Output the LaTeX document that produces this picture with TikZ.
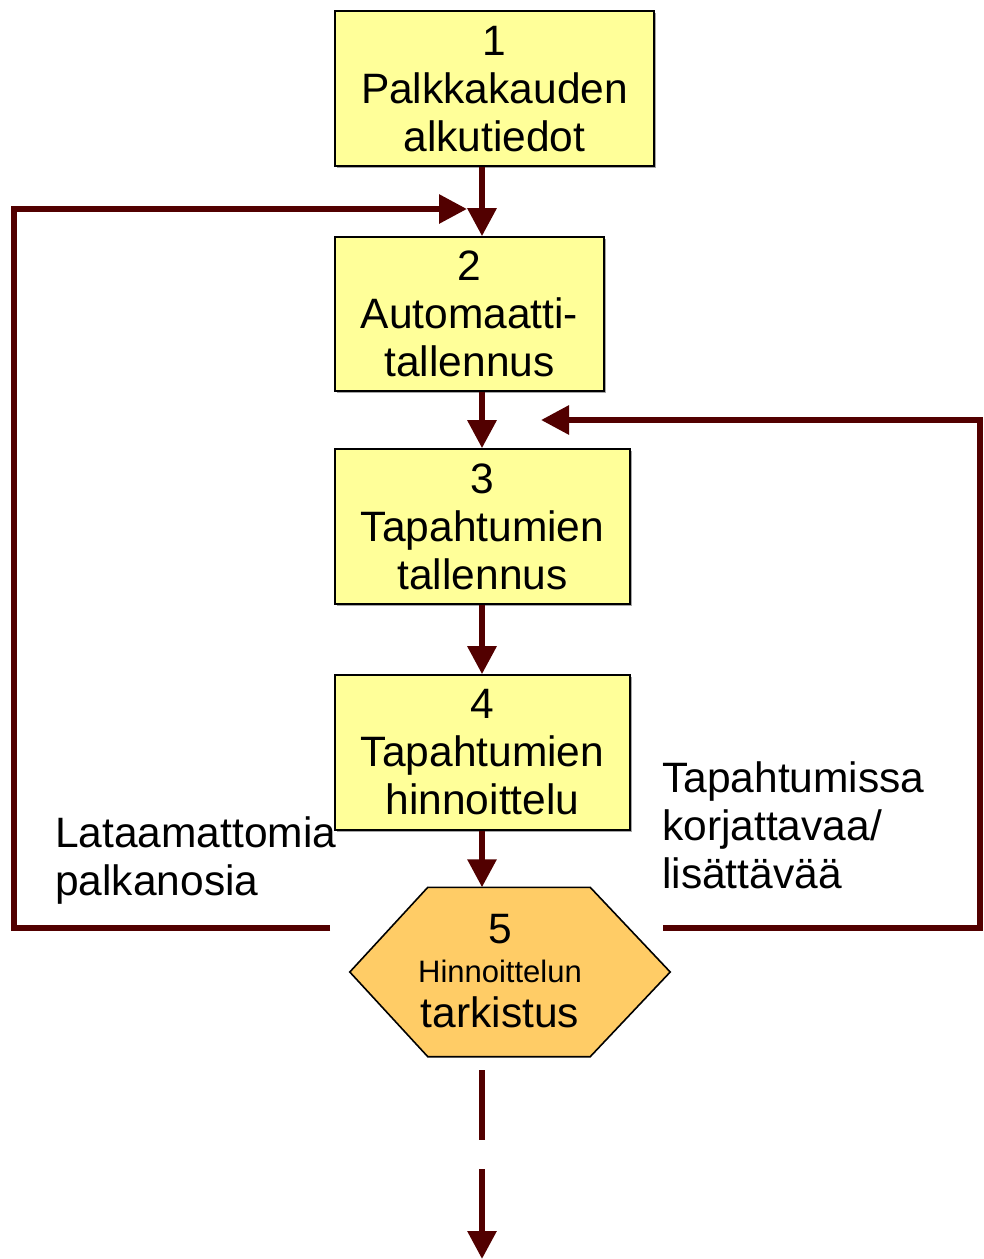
\documentclass[tikz,border=0pt]{standalone}
\usepackage{fontspec}
\setmainfont{Liberation Sans}
\usetikzlibrary{arrows.meta,backgrounds,shadows}
\definecolor{arr}{HTML}{520000}
\definecolor{boxy}{HTML}{FFFF99}
\definecolor{hexy}{HTML}{FFCC66}
\tikzset{
  stepbox/.style={draw=black, line width=1.6pt, fill=boxy, inner sep=0pt, align=center,
    font=\fontsize{42.5}{48}\selectfont,
    drop shadow={shadow xshift=2pt, shadow yshift=-2pt, fill=black!35, opacity=1}},
  flow/.style={draw=arr, line width=6pt, -{Triangle[width=28pt,length=28pt]}},
  flowline/.style={draw=arr, line width=6pt},
  lbl/.style={align=left, inner sep=0pt, anchor=north west, font=\fontsize{42.5}{48}\selectfont},
  bigtxt/.style={inner sep=0pt, anchor=base, font=\fontsize{42.5}{48}\selectfont},
  smalltxt/.style={inner sep=0pt, anchor=base, font=\fontsize{31}{36}\selectfont}
}
\begin{document}
\begin{tikzpicture}[x=1pt,y=-1pt]
\useasboundingbox (0,0) rectangle (984,1259);
% boxes
\node[stepbox, minimum width=319pt, minimum height=155pt, text depth=0pt] (b1) at (494.5,88.5) {\rule{0pt}{4pt}1\\Palkkakauden\\alkutiedot};
\node[stepbox, minimum width=269pt, minimum height=154pt] (b2) at (469.5,314) {\rule{0pt}{4pt}2\\Automaatti-\\tallennus};
\node[stepbox, minimum width=295pt, minimum height=155pt] (b3) at (482.5,526.5) {\rule{0pt}{4pt}3\\Tapahtumien\\tallennus};
\node[stepbox, minimum width=295pt, minimum height=155pt] (b4) at (482.5,752.5) {\rule{0pt}{4pt}4\\Tapahtumien\\hinnoittelu};
% hexagon
\node[inner sep=0pt, minimum width=320pt, minimum height=169pt] (hex) at (510,972) {};
\draw[line width=1.6pt, fill=hexy] (hex.west) -- ([xshift=78pt]hex.north west) -- ([xshift=-80pt]hex.north east)
  -- (hex.east) -- ([xshift=-80pt]hex.south east) -- ([xshift=78pt]hex.south west) -- cycle;
\node[bigtxt] (h1) at (500,943) {5};
\node[smalltxt] (h2) at (500,982) {Hinnoittelun};
\node[bigtxt] (h3) at (500,1027) {tarkistus};
% main flow
\draw[flow] (b1.south -| 482,0) -- (b2.north -| 482,0);
\draw[flow] (b2.south -| 482,0) -- (b3.north -| 482,0);
\draw[flow] (b3.south -| 482,0) -- (b4.north -| 482,0);
\draw[flow] (b4.south -| 482,0) -- (hex.north -| 482,0);
% loops
\coordinate (lstart) at (330,928);
\coordinate (lend) at (467,209);
\coordinate (rstart) at (663,928);
\coordinate (rend) at (541,420);
\draw[flow] (lstart) -- (14,928) -- (14,209) -- (lend);
\draw[flow] (rstart) -- (980,928) -- (980,420) -- (rend);
% bottom dashed
\coordinate (d1) at (482,1070);
\coordinate (d2) at (482,1140);
\coordinate (d3) at (482,1169);
\coordinate (d4) at (482,1259);
\draw[flowline] (d1) -- (d2);
\draw[flow] (d3) -- (d4);
% labels
\node[lbl] (ll) at (55,816) {Lataamattomia\\palkanosia};
\node[lbl] (rl) at (662,761) {Tapahtumissa\\korjattavaa/\\lisättävää};
\end{tikzpicture}
\end{document}
